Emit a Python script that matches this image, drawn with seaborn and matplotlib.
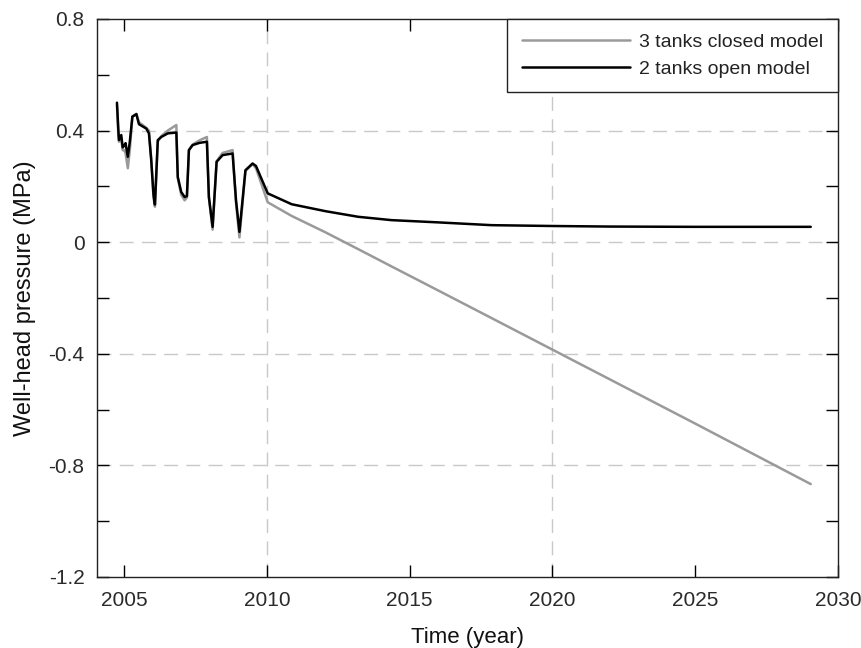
import numpy as np
import pandas as pd
import matplotlib
matplotlib.use("Agg")
import matplotlib.pyplot as plt
import seaborn as sns

# Time axis (decimal years) shared by both model runs
years = [2004.75, 2004.80, 2004.82, 2004.90, 2004.95, 2005.00, 2005.05, 2005.13,
         2005.20, 2005.29, 2005.43, 2005.52, 2005.78, 2005.87, 2005.95, 2006.03,
         2006.08, 2006.18, 2006.30, 2006.53, 2006.83, 2006.88, 2007.00, 2007.12,
         2007.20, 2007.27, 2007.40, 2007.64, 2007.90, 2007.97, 2008.10, 2008.24,
         2008.45, 2008.80, 2008.92, 2009.04, 2009.25, 2009.50, 2009.62, 2010.03,
         2010.87, 2012.06, 2013.20, 2014.37, 2016.00, 2017.87, 2020.00, 2022.00,
         2025.00, 2029.05]

# Well-head pressure (MPa), 3-tank closed reservoir model
closed_model = [0.49, 0.38, 0.36, 0.37, 0.33, 0.33, 0.32, 0.265,
                0.33, 0.45, 0.46, 0.43, 0.41, 0.40, 0.30, 0.16,
                0.127, 0.36, 0.38, 0.40, 0.42, 0.23, 0.17, 0.15,
                0.16, 0.33, 0.35, 0.365, 0.377, 0.16, 0.045, 0.29,
                0.32, 0.33, 0.14, 0.017, 0.255, 0.28, 0.265, 0.143,
                0.094, 0.035, -0.025, -0.087, -0.173, -0.272, -0.385, -0.491,
                -0.650, -0.867]

# Well-head pressure (MPa), 2-tank open reservoir model
open_model = [0.50, 0.40, 0.366, 0.384, 0.34, 0.345, 0.355, 0.306,
              0.36, 0.45, 0.459, 0.423, 0.407, 0.39, 0.294, 0.17,
              0.135, 0.366, 0.377, 0.39, 0.393, 0.234, 0.18, 0.162,
              0.165, 0.33, 0.348, 0.356, 0.36, 0.162, 0.055, 0.288,
              0.312, 0.318, 0.15, 0.037, 0.258, 0.282, 0.273, 0.175,
              0.136, 0.111, 0.091, 0.079, 0.071, 0.061, 0.058, 0.056,
              0.055, 0.055]

labels = ["3 tanks closed model", "2 tanks open model"]
x_ticks = [2005, 2010, 2015, 2020, 2025, 2030]
y_ticks = [-1.2, -0.8, -0.4, 0.0, 0.4, 0.8]

df = pd.DataFrame({
    "year": years * 2,
    "pressure": closed_model + open_model,
    "model": [labels[0]] * len(years) + [labels[1]] * len(years),
})

sns.set_theme(style="white")
plt.rcParams["font.family"] = ["Liberation Sans", "DejaVu Sans"]

fig = plt.figure(figsize=(8.62, 6.48), dpi=100)
ax = fig.add_axes([0.1125, 0.1096, 0.8595, 0.8611])

# dashed reference grid
for gx in (2010, 2020):
    ax.axvline(gx, color="#c8c8c8", lw=1.0, dashes=(10, 6), zorder=0)
for gy in (0.4, 0.0, -0.4, -0.8):
    ax.axhline(gy, color="#c8c8c8", lw=1.0, dashes=(10, 6), zorder=0)

sns.lineplot(data=df, x="year", y="pressure", hue="model", hue_order=labels,
             palette={labels[0]: "#9a9a9a", labels[1]: "black"},
             linewidth=1.8, ax=ax, legend=False, estimator=None, sort=False)

ax.set_xlim(2004.05, 2030)
ax.set_ylim(-1.2, 0.8)
ax.set_xticks(x_ticks)
ax.set_yticks(y_ticks)
ax.set_yticklabels([f"{v:g}" for v in y_ticks])
ax.set_yticks(np.arange(-1.0, 0.8, 0.4), minor=True)

ax.tick_params(axis="both", which="both", direction="in", length=8.5, width=1.0,
               color="black", left=True, bottom=True, top=True, right=True,
               labelsize=15, labelcolor="#2a2a2a")
ax.tick_params(axis="x", pad=10)
ax.tick_params(axis="y", pad=9)
for s in ax.spines.values():
    s.set_color("#222222")
    s.set_linewidth(1.0)

ax.set_xlabel("Time (year)", fontsize=16, color="#111111", labelpad=12)
ax.set_ylabel("Well-head pressure (MPa)", fontsize=17, color="#111111", labelpad=9)

handles = [plt.Line2D([], [], color="#9a9a9a", lw=1.8),
           plt.Line2D([], [], color="black", lw=1.8)]
leg = ax.legend(handles, labels, loc="upper right", borderaxespad=0,
                fontsize=14, handlelength=5.6, handletextpad=0.45,
                labelspacing=0.45, borderpad=0.75, fancybox=False,
                framealpha=1, edgecolor="#222222")
leg.get_frame().set_linewidth(1.0)
for t in leg.get_texts():
    t.set_color("#222222")

fig.savefig("out.png", dpi=100)
